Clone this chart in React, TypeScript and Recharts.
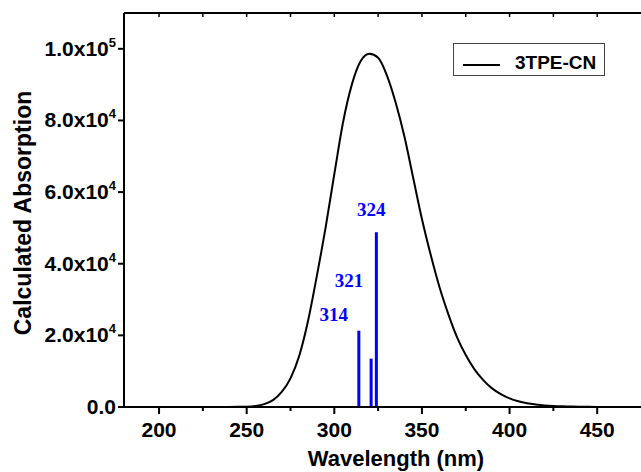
import {
  ComposedChart,
  Line,
  XAxis,
  YAxis,
  ReferenceLine,
  Legend,
} from 'recharts'

// simulated spectrum, every 5 nm
const wavelengths = [
  180, 185, 190, 195, 200, 205, 210, 215, 220, 225, 230, 235, 240, 245, 250, 255,
  260, 265, 270, 275, 280, 285, 290, 295, 300, 305, 310, 315, 320, 325, 330, 335,
  340, 345, 350, 355, 360, 365, 370, 375, 380, 385, 390, 395, 400, 405, 410, 415,
  420, 425, 430, 435, 440, 445, 450, 455, 460, 465, 470, 475,
]
const absorption = [
  0, 0, 0, 0, 0, 0, 0, 0, 0, 0, 0, 0, 10, 40, 100, 300,
  800, 1900, 4200, 8000, 14300, 24000, 36500, 50000, 65000, 79500, 90000, 96500, 98600, 97500, 92600, 85000,
  75500, 64000, 52500, 42500, 33500, 26000, 19500, 14500, 10500, 7500, 5200, 3600, 2400, 1600, 1050, 700,
  450, 300, 200, 130, 85, 55, 35, 20, 12, 6, 3, 0,
]

// excited-state sticks
const stickWl = [314, 321, 324]
const stickOsc = [21300, 13500, 48800]

const xTicks = [200, 225, 250, 275, 300, 325, 350, 375, 400, 425, 450]
const yTicks = [0, 20000, 40000, 60000, 80000, 100000]

const seriesName = '3TPE-CN'

const data = wavelengths.map((wl, i) => ({ wl, abs: absorption[i] }))

// pixel offsets of the stick labels relative to the top of each stick
const labelShift = [
  { dx: -25, dy: -10 },
  { dx: -22, dy: -72 },
  { dx: -5, dy: -16 },
]

const FONT = '"Liberation Sans", Arial, sans-serif'
const BLUE = '#0000ff'

function BottomTick({ x, y, payload }: any) {
  const major = payload.value % 50 === 0
  return (
    <g>
      <line x1={x} x2={x} y1={y} y2={y + (major ? 7 : 4)} stroke="#000" strokeWidth={2} />
      {major && (
        <text x={x} y={y + 30} textAnchor="middle" fontFamily={FONT} fontWeight="bold" fontSize={21} fill="#000">
          {payload.value}
        </text>
      )}
    </g>
  )
}

function TopTick({ x, y }: any) {
  return <line x1={x} x2={x} y1={y} y2={y + 4} stroke="#000" strokeWidth={1.5} />
}

function LeftTick({ x, y, payload }: any) {
  const v = payload.value
  if (v === 0) {
    return (
      <text x={x} y={y} dy={7} textAnchor="end" fontFamily={FONT} fontWeight="bold" fontSize={21} fill="#000">
        0.0
      </text>
    )
  }
  const exp = Math.floor(Math.log10(v))
  const mant = (v / Math.pow(10, exp)).toFixed(1)
  return (
    <text x={x} y={y} dy={7} textAnchor="end" fontFamily={FONT} fontWeight="bold" fontSize={21} fill="#000">
      {mant}x10
      <tspan dy={-9} fontSize={13}>{exp}</tspan>
    </text>
  )
}

const stickLabel = (text: string, dx: number, dy: number) => (props: any) => {
  const vb = props.viewBox || { x: 0, y: 0 }
  return (
    <text
      x={vb.x + dx}
      y={vb.y + dy}
      textAnchor="middle"
      fontFamily='"Liberation Serif", "Times New Roman", serif'
      fontWeight="bold"
      fontSize={19}
      fill={BLUE}
    >
      {text}
    </text>
  )
}

function LegendBox() {
  return (
    <div
      style={{
        width: 150,
        height: 31,
        border: '1px solid #444',
        background: '#fff',
        display: 'flex',
        alignItems: 'center',
        boxSizing: 'content-box',
      }}
    >
      <svg width={50} height={31}>
        <line x1={9} x2={46} y1={21} y2={21} stroke="#000" strokeWidth={2} />
      </svg>
      <span
        style={{
          fontFamily: FONT,
          fontWeight: 'bold',
          fontSize: 19,
          marginLeft: 11,
          marginTop: 7,
          color: '#000',
        }}
      >
        {seriesName}
      </span>
    </div>
  )
}

export default function App() {
  return (
    <div style={{ position: 'absolute', left: 0, top: 0, background: '#fff' }}>
      <ComposedChart width={641} height={472} data={data} margin={{ top: 0, right: 0, bottom: 0, left: 0 }}>
        <XAxis
          xAxisId="top"
          orientation="top"
          dataKey="wl"
          type="number"
          domain={[180, 475]}
          ticks={xTicks}
          interval={0}
          height={13}
          tickSize={0}
          tickMargin={0}
          tickLine={false}
          tick={<TopTick />}
          axisLine={{ stroke: '#000', strokeWidth: 2 }}
        />
        <XAxis
          dataKey="wl"
          type="number"
          domain={[180, 475]}
          ticks={xTicks}
          interval={0}
          height={65}
          tickSize={0}
          tickMargin={0}
          tickLine={false}
          tick={<BottomTick />}
          axisLine={{ stroke: '#000', strokeWidth: 2 }}
        />
        <YAxis
          type="number"
          domain={[0, 110000]}
          ticks={yTicks}
          interval={0}
          width={124}
          tickSize={6}
          tickMargin={2}
          tickLine={{ stroke: '#000', strokeWidth: 2 }}
          tick={<LeftTick />}
          axisLine={{ stroke: '#000', strokeWidth: 2 }}
        />
        {stickWl.map((wl, i) => (
          <ReferenceLine
            key={wl}
            segment={[
              { x: wl, y: 0 },
              { x: wl, y: stickOsc[i] },
            ]}
            stroke={BLUE}
            strokeWidth={3}
            label={stickLabel(String(wl), labelShift[i].dx, labelShift[i].dy)}
          />
        ))}
        <Line
          type="monotone"
          dataKey="abs"
          name={seriesName}
          stroke="#000"
          strokeWidth={2}
          dot={false}
          isAnimationActive={false}
        />
        <Legend
          verticalAlign="middle"
          align="center"
          content={<LegendBox />}
          wrapperStyle={{ position: 'absolute', left: 453, top: 43, width: 'auto' }}
        />
        <text
          x={396}
          y={466}
          textAnchor="middle"
          fontFamily={FONT}
          fontWeight="bold"
          fontSize={22}
          fill="#000"
        >
          Wavelength (nm)
        </text>
        <text
          transform="translate(31,213) rotate(-90)"
          textAnchor="middle"
          fontFamily={FONT}
          fontWeight="bold"
          fontSize={23}
          fill="#000"
        >
          Calculated Absorption
        </text>
      </ComposedChart>
    </div>
  )
}
